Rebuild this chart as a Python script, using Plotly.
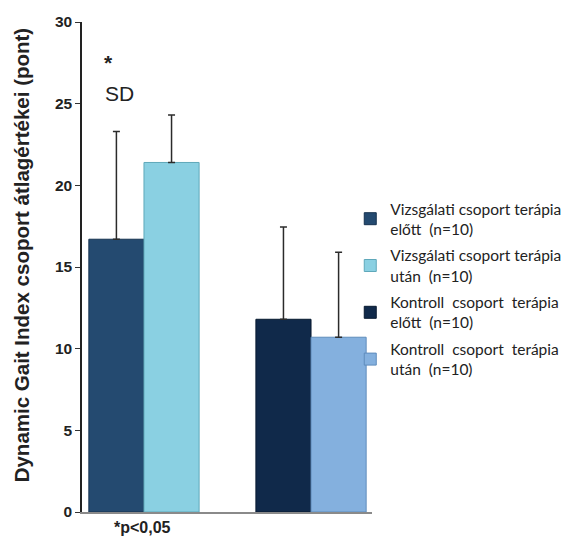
import plotly.graph_objects as go

groups = ["Vizsgálati csoport", "Kontroll csoport"]
series_names = [
    "Vizsgálati csoport terápia<br>előtt  (n=10)",
    "Vizsgálati csoport terápia<br>után  (n=10)",
    "Kontroll  csoport  terápia<br>előtt  (n=10)",
    "Kontroll  csoport  terápia<br>után  (n=10)",
]
series_group = [groups[0], groups[0], groups[1], groups[1]]
series_offsetgroup = ["elott", "utan", "elott", "utan"]
means = [16.7, 21.4, 11.8, 10.7]
sds = [6.6, 2.9, 5.65, 5.2]
colors = ["#244a70", "#8ad0e2", "#10294a", "#84b0de"]
line_colors = ["#16324f", "#5fa8ba", "#081a30", "#5f8cbc"]
yticks = [0, 5, 10, 15, 20, 25, 30]

fig = go.Figure()
for i in range(4):
    fig.add_trace(go.Bar(
        x=[series_group[i]], y=[means[i]], name=series_names[i],
        offsetgroup=series_offsetgroup[i], legendgroup=str(i),
        marker=dict(color=colors[i], line=dict(color=line_colors[i], width=1)),
        error_y=dict(type="data", array=[sds[i]], arrayminus=[0], symmetric=False,
                     color="#2b2b2b", thickness=1.5, width=3.5),
    ))

fig.update_layout(
    width=569, height=543,
    margin=dict(l=82, r=197, t=22, b=31, autoexpand=False),
    plot_bgcolor="white", paper_bgcolor="white",
    barmode="group", bargap=0.34, bargroupgap=0,
    font=dict(family="Liberation Sans, Arial", color="#222"),
    showlegend=True,
    legend=dict(x=0.925, xanchor="left", y=0.455, yanchor="middle",
                font=dict(family="Lato", size=15.5, color="#222"),
                bgcolor="rgba(0,0,0,0)", tracegroupgap=3.5, itemwidth=30),
    annotations=[
        dict(text="<b>*</b>", x=0.092, xref="paper", xanchor="center",
             y=27.5, yref="y", yanchor="middle", showarrow=False,
             font=dict(size=21, color="#222")),
        dict(text="SD", x=0.131, xref="paper", xanchor="center",
             y=25.65, yref="y", yanchor="middle", showarrow=False,
             font=dict(size=21, color="#222")),
        dict(text="<b>*p<0,05</b>", x=0.21, xref="paper", xanchor="center",
             y=-0.031, yref="paper", yanchor="middle", showarrow=False,
             font=dict(size=16, color="#222")),
        dict(text="<b>Dynamic Gait Index csoport átlagértékei (pont)</b>",
             x=-0.21, xref="paper", xanchor="center",
             y=0.524, yref="paper", yanchor="middle", textangle=-90,
             showarrow=False, font=dict(size=20.5, color="#222")),
    ],
)
fig.update_xaxes(type="category", range=[-0.371, 1.365], showticklabels=False,
                 ticks="", showline=True, linecolor="#8a8a8a", linewidth=1.5,
                 showgrid=False, zeroline=False)
fig.update_yaxes(range=[0, 30], tickvals=yticks, ticktext=[f"<b>{v}</b>" for v in yticks],
                 ticks="outside", ticklen=5, tickcolor="#333", showline=True,
                 linecolor="#222", linewidth=1.5, showgrid=False, zeroline=False,
                 tickfont=dict(size=15.5, color="#222"))
fig.write_html("out.html")
